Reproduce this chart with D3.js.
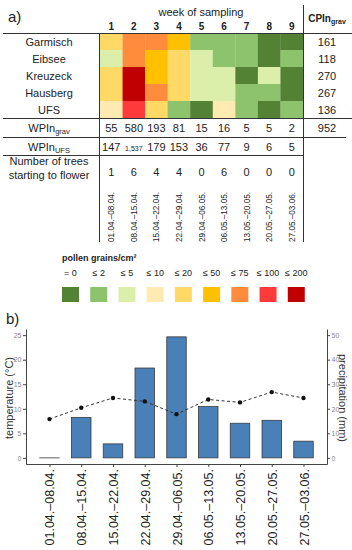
<!DOCTYPE html>
<html><head><meta charset="utf-8">
<script src="https://cdn.jsdelivr.net/npm/d3@7"></script>
<style>body{margin:0;background:#fff}svg{display:block;font-family:"Liberation Sans",Arial,sans-serif}</style>
</head><body><svg id="c" width="352" height="550"></svg>
<script>
const sites = ["Garmisch","Eibsee","Kreuzeck","Hausberg","UFS"];
const weeks = ["1","2","3","4","5","6","7","8","9"];
const cpinGrav = [161,118,270,267,136];
const cpinTotal = 952;
const classLabels = ["= 0","≤ 2","≤ 5","≤ 10","≤ 20","≤ 50","≤ 75","≤ 100","≤ 200"];
const classColors = ["#548235","#8ec36e","#dcefaa","#ffebb2","#ffd966","#ffc000","#ff8c3c","#ff3a3a","#c00000"];
// pollen class index per site (rows) and week (columns)
const heatGarmisch = [4,6,6,5,1,1,1,0,0];
const heatEibsee   = [2,6,5,4,2,1,1,0,1];
const heatKreuzeck = [4,8,5,4,2,2,0,2,0];
const heatHausberg = [4,8,6,4,2,2,1,1,0];
const heatUFS      = [3,7,4,1,0,3,1,0,1];
const wpinGrav = [55,580,193,81,15,16,5,5,2];
const wpinUFS = [147,1537,179,153,36,77,9,6,5];
const treesFlowering = [1,6,4,4,0,6,0,0,0];
const periods = ["01.04.–08.04.","08.04.–15.04.","15.04.–22.04.","22.04.–29.04.","29.04.–06.05.","06.05.–13.05.","13.05.–20.05.","20.05.–27.05.","27.05.–03.06."];
const precipitation = [0,16.5,5.7,36.6,49.3,20.9,14.1,15.3,6.8];
const temperature = [7.9,10.2,12.2,11.5,8.9,11.9,11.3,13.4,12.2];
const tempTicks = [0,5,10,15,20,25];
const precipTicks = [0,10,20,30,40,50];

const heat = [heatGarmisch,heatEibsee,heatKreuzeck,heatHausberg,heatUFS];
const svg = d3.select("#c");
const ink = "#222";

// ---------- Panel a ----------
const x = d3.scaleBand().domain(weeks).range([100,303]);
const y = d3.scaleBand().domain(sites).range([33,118]);
const color = d3.scaleOrdinal().domain(d3.range(classColors.length)).range(classColors);

svg.append("text").attr("x",8).attr("y",22).attr("font-size",15).attr("fill",ink).text("a)");
svg.append("text").attr("x",201).attr("y",16).attr("text-anchor","middle").attr("font-size",11).attr("fill",ink).text("week of sampling");
svg.selectAll(".wk").data(weeks).join("text").attr("x",d=>x(d)+x.bandwidth()/2).attr("y",30)
  .attr("text-anchor","middle").attr("font-size",10).attr("font-weight","bold").attr("fill",ink).text(d=>d);
const cp = svg.append("text").attr("x",327).attr("y",22).attr("text-anchor","middle").attr("font-size",10).attr("font-weight","bold").attr("fill",ink);
cp.append("tspan").text("CPIn");
cp.append("tspan").attr("font-size",7).attr("dy",1.5).text("grav");

const cells = [];
heat.forEach((row,i)=>row.forEach((c,j)=>cells.push({site:sites[i],week:weeks[j],c})));
svg.selectAll(".cell").data(cells).join("rect")
  .attr("x",d=>x(d.week)).attr("y",d=>y(d.site)).attr("width",x.bandwidth()+0.3).attr("height",y.bandwidth()+0.3)
  .attr("fill",d=>color(d.c));

svg.selectAll(".site").data(sites).join("text").attr("x",49).attr("y",d=>y(d)+y.bandwidth()/2+4)
  .attr("text-anchor","middle").attr("font-size",11).attr("fill",ink).text(d=>d);
svg.selectAll(".cpv").data(cpinGrav).join("text").attr("x",327).attr("y",(d,i)=>y(sites[i])+y.bandwidth()/2+4)
  .attr("text-anchor","middle").attr("font-size",11).attr("fill",ink).text(d=>d);

function subLabel(yb, main, sub){
  const t = svg.append("text").attr("x",49).attr("y",yb).attr("text-anchor","middle").attr("font-size",11).attr("fill",ink);
  t.append("tspan").text(main);
  t.append("tspan").attr("font-size",7.5).attr("dy",1.5).text(sub);
}
subLabel(132,"WPIn","grav");
subLabel(151,"WPIn","UFS");
svg.selectAll(".wg").data(wpinGrav).join("text").attr("x",(d,i)=>x(weeks[i])+x.bandwidth()/2).attr("y",132)
  .attr("text-anchor","middle").attr("font-size",11).attr("fill",ink).text(d=>d);
svg.append("text").attr("x",327).attr("y",132).attr("text-anchor","middle").attr("font-size",11).attr("fill",ink).text(cpinTotal);
svg.selectAll(".wu").data(wpinUFS).join("text").attr("x",(d,i)=>x(weeks[i])+x.bandwidth()/2).attr("y",151)
  .attr("text-anchor","middle").attr("font-size",d=>d>=1000?7:11).attr("fill",ink).text(d=>d3.format(",")(d));
svg.append("text").attr("x",49).attr("y",165).attr("text-anchor","middle").attr("font-size",11).attr("fill",ink).text("Number of trees");
svg.append("text").attr("x",49).attr("y",179).attr("text-anchor","middle").attr("font-size",11).attr("fill",ink).text("starting to flower");
svg.selectAll(".tr").data(treesFlowering).join("text").attr("x",(d,i)=>x(weeks[i])+x.bandwidth()/2).attr("y",176)
  .attr("text-anchor","middle").attr("font-size",11).attr("fill",ink).text(d=>d);

svg.selectAll(".pd").data(periods).join("text")
  .attr("transform",(d,i)=>`translate(${x(weeks[i])+x.bandwidth()/2+3},242) rotate(-90)`)
  .attr("font-size",8.2).attr("fill","#222").text(d=>d);

// table lines
const L = svg.append("g").attr("stroke","#333").attr("stroke-width",1);
L.append("line").attr("x1",3).attr("x2",352).attr("y1",33.5).attr("y2",33.5);
L.append("line").attr("x1",3).attr("x2",352).attr("y1",118.5).attr("y2",118.5);
L.append("line").attr("x1",3).attr("x2",346).attr("y1",137.5).attr("y2",137.5);
L.append("line").attr("x1",3).attr("x2",303).attr("y1",155.5).attr("y2",155.5);
L.append("line").attr("x1",99.5).attr("x2",99.5).attr("y1",33).attr("y2",242);
L.append("line").attr("x1",303.5).attr("x2",303.5).attr("y1",5).attr("y2",242);

// legend
const lx = d3.scaleBand().domain(classLabels).range([62,316]);
svg.append("text").attr("x",62).attr("y",261).attr("font-size",9).attr("font-weight","bold").attr("fill",ink).html("pollen grains/cm²");
svg.selectAll(".lg").data(classLabels).join("rect").attr("x",d=>lx(d)).attr("y",287).attr("width",17).attr("height",15)
  .attr("fill",(d,i)=>classColors[i]);
svg.selectAll(".lt").data(classLabels).join("text").attr("x",d=>lx(d)+8.5).attr("y",276)
  .attr("text-anchor","middle").attr("font-size",9).attr("fill",ink).text(d=>d);

// ---------- Panel b ----------
svg.append("text").attr("x",6).attr("y",324).attr("font-size",15).attr("fill",ink).text("b)");
const xb = d3.scalePoint().domain(periods).range([26,327]).padding(0.74);
const yT = d3.scaleLinear().domain([-1.25,26.25]).range([464,329]);
const yP = d3.scaleLinear().domain([-2.5,52.5]).range([464,329]);
const bw = 19.5;

svg.selectAll(".bar").data(precipitation).join("rect")
  .attr("x",(d,i)=>xb(periods[i])-bw/2).attr("width",bw)
  .attr("y",d=>yP(d)).attr("height",d=>Math.max(yP(0)-yP(d),0.01))
  .attr("fill","#4a80b8").attr("stroke","#3a3a3a").attr("stroke-width",0.8);

const line = d3.line().x((d,i)=>xb(periods[i])).y(d=>yT(d));
svg.append("path").datum(temperature).attr("d",line).attr("fill","none").attr("stroke","#333").attr("stroke-width",1).attr("stroke-dasharray","3,2.5");
svg.selectAll(".pt").data(temperature).join("circle").attr("cx",(d,i)=>xb(periods[i])).attr("cy",d=>yT(d)).attr("r",2.2).attr("fill","#111");

function styleAxis(g){
  g.selectAll(".domain").attr("stroke","#444");
  g.selectAll(".tick line").attr("stroke","#444");
  g.selectAll(".tick text").attr("fill","#888").attr("font-size",7).attr("font-family","Liberation Sans, Arial, sans-serif");
}
const gl = svg.append("g").attr("transform","translate(26,0)").call(d3.axisLeft(yT).tickValues(tempTicks).tickSize(3).tickSizeOuter(0).tickPadding(1.5));
styleAxis(gl);
const gr = svg.append("g").attr("transform","translate(327,0)").call(d3.axisRight(yP).tickValues(precipTicks).tickSize(3).tickSizeOuter(0).tickPadding(1.5));
styleAxis(gr);
const gb = svg.append("g").attr("transform","translate(0,464)").call(d3.axisBottom(xb).tickSize(3).tickSizeOuter(0));
styleAxis(gb);
gb.selectAll(".tick text").attr("fill","#222").attr("font-size",12.5).attr("text-anchor","end")
  .attr("x",0).attr("y",0).attr("dy",0)
  .attr("transform","translate(4.5,5) rotate(-90)");

svg.append("text").attr("transform","translate(13,398) rotate(-90)").attr("text-anchor","middle").attr("font-size",11).attr("fill","#333").text("temperature (°C)");
svg.append("text").attr("transform","translate(339,398) rotate(90)").attr("text-anchor","middle").attr("font-size",11).attr("fill","#333").text("precipitation (mm)");
</script></body></html>
